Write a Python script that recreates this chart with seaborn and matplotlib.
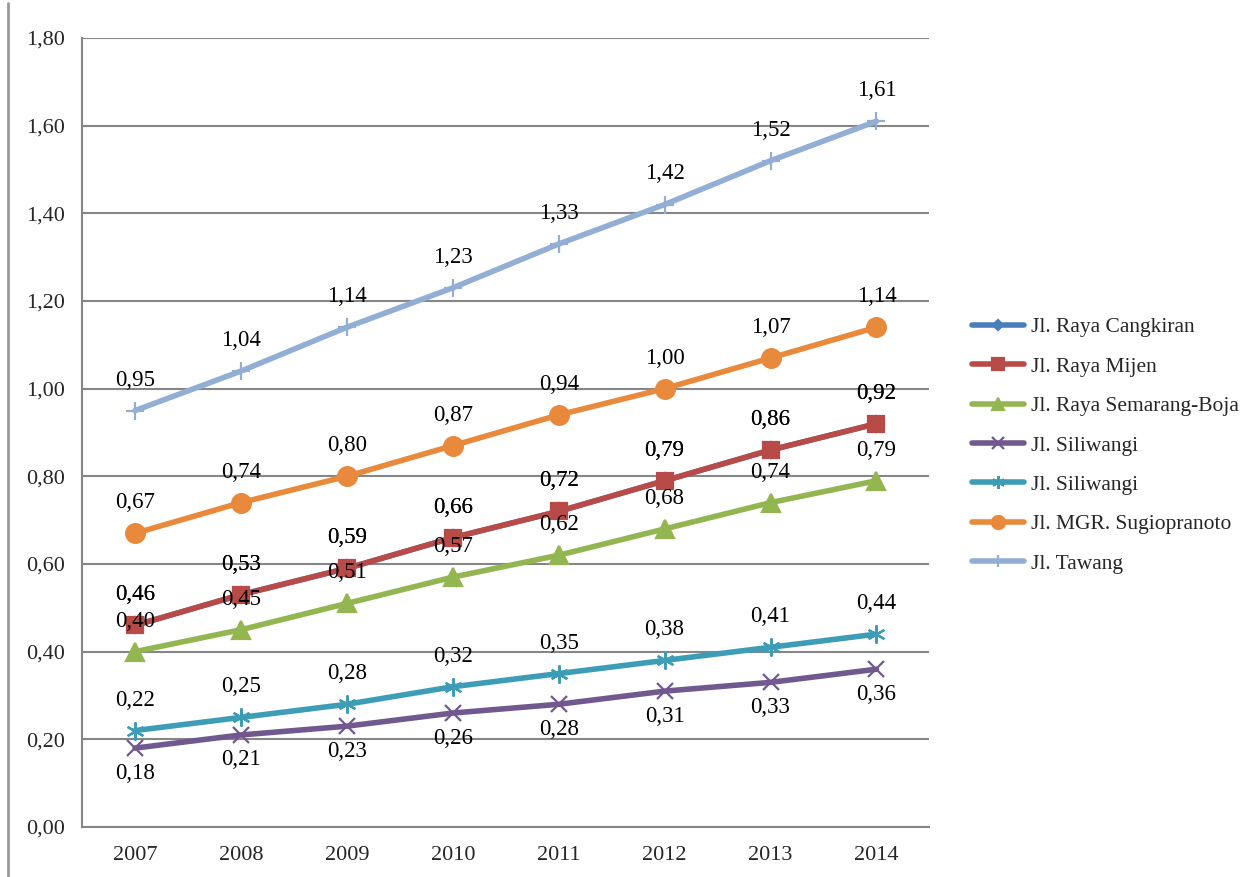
import pandas as pd
import seaborn as sns
import matplotlib.pyplot as plt
from matplotlib.lines import Line2D
from matplotlib.ticker import FixedLocator, FuncFormatter

years = ['2007', '2008', '2009', '2010', '2011', '2012', '2013', '2014']
names = ['Jl. Raya Cangkiran', 'Jl. Raya Mijen', 'Jl. Raya Semarang-Boja',
         'Jl. Siliwangi', 'Jl. Siliwangi ', 'Jl. MGR. Sugiopranoto', 'Jl. Tawang']
cangkiran = [0.46, 0.53, 0.59, 0.66, 0.72, 0.79, 0.86, 0.92]
mijen = [0.46, 0.53, 0.59, 0.66, 0.72, 0.79, 0.86, 0.92]
boja = [0.40, 0.45, 0.51, 0.57, 0.62, 0.68, 0.74, 0.79]
siliwangi1 = [0.18, 0.21, 0.23, 0.26, 0.28, 0.31, 0.33, 0.36]
siliwangi2 = [0.22, 0.25, 0.28, 0.32, 0.35, 0.38, 0.41, 0.44]
sugiopranoto = [0.67, 0.74, 0.80, 0.87, 0.94, 1.00, 1.07, 1.14]
tawang = [0.95, 1.04, 1.14, 1.23, 1.33, 1.42, 1.52, 1.61]

series = [cangkiran, mijen, boja, siliwangi1, siliwangi2, sugiopranoto, tawang]
colors = ['#4A7EBB', '#B84A47', '#93B651', '#71588F', '#3E9DB6', '#E8893C', '#93AED4']
markers = ['D', 's', '^', 'x', (6, 2, 0), 'o', '+']
msizes = [8, 11.5, 12.5, 12, 13, 13.5, 13]
label_off = [22, 22, 22, -18, 22, 22, 22]

rows = []
for name, vals in zip(names, series):
    for i, v in enumerate(vals):
        rows.append({'pos': i, 'year': years[i], 'value': v, 'name': name})
df = pd.DataFrame(rows)

sns.set_style('white')
plt.rcParams['font.family'] = ['Liberation Serif', 'DejaVu Serif']

fig = plt.figure(figsize=(12.56, 8.77), dpi=100)
ax = fig.add_axes([0.0653, 0.057, 0.6747, 0.8997])

for name, col, mk, ms, off in zip(names, colors, markers, msizes, label_off):
    d = df[df['name'] == name]
    sns.lineplot(data=d, x='pos', y='value', ax=ax, color=col, linewidth=4,
                 marker=mk, markersize=ms, markeredgecolor=col, markeredgewidth=1.6,
                 label=name.strip())
    for _, r in d.iterrows():
        ax.annotate(f"{r['value']:.2f}".replace('.', ','), (r['pos'], r['value']),
                    xytext=(0, off), textcoords='offset points',
                    ha='center', va='center', fontsize=16.5, color='black')

ax.set_xlim(-0.5, 7.5)
ax.set_ylim(0, 1.8)
ax.set_yticks([i * 0.2 for i in range(10)])
ax.yaxis.set_major_formatter(FuncFormatter(lambda v, p: f"{v:.2f}".replace('.', ',')))
ax.set_xticks(range(8))
ax.set_xticklabels(years)
ax.xaxis.set_minor_locator(FixedLocator([i - 0.5 for i in range(9)]))
ax.tick_params(axis='x', which='major', length=0, pad=14, labelsize=16)
ax.tick_params(axis='x', which='minor', length=6, width=1.5, color='#868686', direction='out')
ax.tick_params(axis='y', length=6, width=1.5, color='#868686', direction='out', labelsize=16, pad=6)
ax.grid(axis='y', color='#868686', linewidth=1.5)
ax.set_axisbelow(True)
for s in ['top', 'right']:
    ax.spines[s].set_visible(False)
for s in ['left', 'bottom']:
    ax.spines[s].set_color('#868686')
    ax.spines[s].set_linewidth(1.5)
ax.set_xlabel('')
ax.set_ylabel('')

ax.legend(loc='center left', bbox_to_anchor=(1.04, 0.4835), frameon=False, fontsize=15.5,
          handlelength=2.4, labelspacing=0.9, handletextpad=0.33, markerscale=0.7,
          borderaxespad=0)

fig.add_artist(Line2D([0.0065, 0.0065], [0.0, 0.997], color='#9a9a9a', linewidth=2))

fig.savefig('out.png', dpi=100)
